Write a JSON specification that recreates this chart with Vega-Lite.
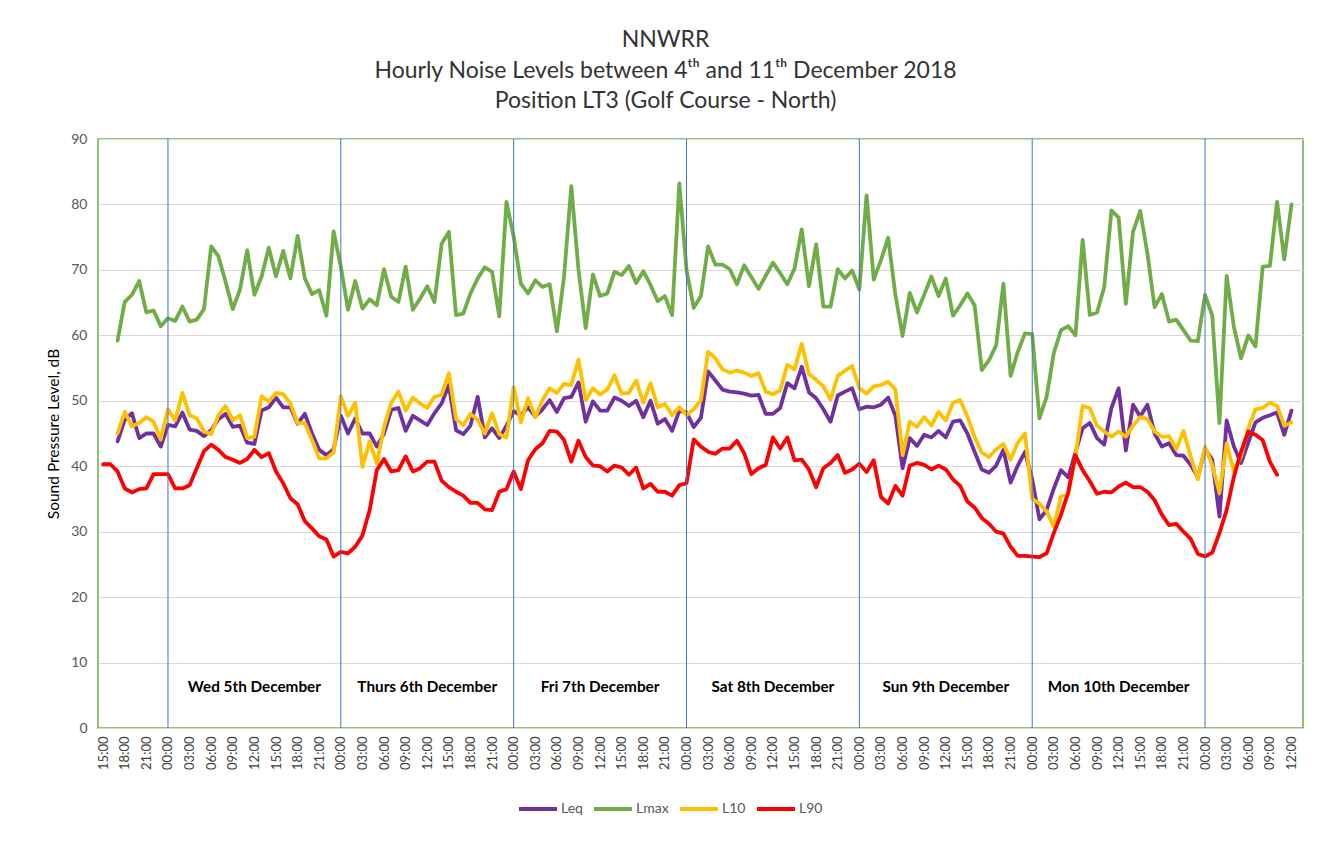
{
  "$schema": "https://vega.github.io/schema/vega-lite/v6.json",
  "width": 1205,
  "height": 589,
  "autosize": {"type": "none"},
  "padding": {"left": 98, "top": 139, "right": 27, "bottom": 134},
  "background": "white",
  "config": {
    "font": "Lato",
    "view": {"stroke": "#70AD47", "strokeWidth": 1.5},
    "axisX": {"labelAngle": 270, "labelFontSize": 13, "labelColor": "#404040", "labelPadding": 8, "ticks": false, "grid": false, "domainColor": "#d9d9d9", "labelOverlap": false, "labelFlush": false, "labelBound": false},
    "axisY": {"labelFontSize": 14, "labelColor": "#595959", "ticks": false, "domain": false, "gridColor": "#d9d9d9", "gridWidth": 1, "labelPadding": 11, "titleFontSize": 15.5, "titleColor": "#000000", "titleFontWeight": "normal", "titlePadding": 9}
  },
  "title": {
    "text": ["NNWRR", "Hourly Noise Levels between 4ᵗʰ and 11ᵗʰ December 2018", "Position LT3 (Golf Course - North)"],
    "fontSize": 23, "fontWeight": "normal", "color": "#333333", "lineHeight": 30.5,
    "anchor": "middle", "frame": "group", "dx": -35, "offset": 19
  },
  "datasets": {
    "midnights": [
      {"t": "2018-12-05T00:00"}, {"t": "2018-12-06T00:00"}, {"t": "2018-12-07T00:00"}, {"t": "2018-12-08T00:00"},
      {"t": "2018-12-09T00:00"}, {"t": "2018-12-10T00:00"}, {"t": "2018-12-11T00:00"}
    ],
    "days": [
      {"t": "2018-12-05T12:00", "label": "Wed 5th December"},
      {"t": "2018-12-06T12:00", "label": "Thurs 6th December"},
      {"t": "2018-12-07T12:00", "label": "Fri 7th December"},
      {"t": "2018-12-08T12:00", "label": "Sat 8th December"},
      {"t": "2018-12-09T12:00", "label": "Sun 9th December"},
      {"t": "2018-12-10T12:00", "label": "Mon 10th December"}
    ],
    "noise": [
      {"t": "2018-12-04T15:00", "Leq": null, "Lmax": null, "L10": null, "L90": 40.3},
      {"t": "2018-12-04T16:00", "Leq": null, "Lmax": null, "L10": null, "L90": 40.3},
      {"t": "2018-12-04T17:00", "Leq": 43.8, "Lmax": 59.2, "L10": 45.0, "L90": 39.2},
      {"t": "2018-12-04T18:00", "Leq": 47.1, "Lmax": 65.1, "L10": 48.3, "L90": 36.6},
      {"t": "2018-12-04T19:00", "Leq": 48.1, "Lmax": 66.2, "L10": 46.1, "L90": 36.0},
      {"t": "2018-12-04T20:00", "Leq": 44.3, "Lmax": 68.3, "L10": 46.6, "L90": 36.5},
      {"t": "2018-12-04T21:00", "Leq": 45.0, "Lmax": 63.5, "L10": 47.5, "L90": 36.6},
      {"t": "2018-12-04T22:00", "Leq": 45.0, "Lmax": 63.8, "L10": 46.8, "L90": 38.8},
      {"t": "2018-12-04T23:00", "Leq": 43.0, "Lmax": 61.4, "L10": 44.1, "L90": 38.8},
      {"t": "2018-12-05T00:00", "Leq": 46.3, "Lmax": 62.6, "L10": 48.7, "L90": 38.8},
      {"t": "2018-12-05T01:00", "Leq": 46.1, "Lmax": 62.2, "L10": 47.0, "L90": 36.6},
      {"t": "2018-12-05T02:00", "Leq": 48.2, "Lmax": 64.4, "L10": 51.2, "L90": 36.6},
      {"t": "2018-12-05T03:00", "Leq": 45.6, "Lmax": 62.1, "L10": 47.8, "L90": 37.1},
      {"t": "2018-12-05T04:00", "Leq": 45.4, "Lmax": 62.4, "L10": 47.3, "L90": 39.7},
      {"t": "2018-12-05T05:00", "Leq": 44.6, "Lmax": 64.0, "L10": 45.3, "L90": 42.3},
      {"t": "2018-12-05T06:00", "Leq": 45.5, "Lmax": 73.6, "L10": 44.9, "L90": 43.3},
      {"t": "2018-12-05T07:00", "Leq": 47.2, "Lmax": 72.1, "L10": 47.8, "L90": 42.5},
      {"t": "2018-12-05T08:00", "Leq": 48.0, "Lmax": 68.2, "L10": 49.2, "L90": 41.4},
      {"t": "2018-12-05T09:00", "Leq": 46.0, "Lmax": 64.0, "L10": 47.0, "L90": 41.0},
      {"t": "2018-12-05T10:00", "Leq": 46.2, "Lmax": 67.0, "L10": 47.8, "L90": 40.5},
      {"t": "2018-12-05T11:00", "Leq": 43.6, "Lmax": 73.0, "L10": 44.3, "L90": 41.1},
      {"t": "2018-12-05T12:00", "Leq": 43.4, "Lmax": 66.2, "L10": 44.5, "L90": 42.5},
      {"t": "2018-12-05T13:00", "Leq": 48.5, "Lmax": 69.0, "L10": 50.7, "L90": 41.4},
      {"t": "2018-12-05T14:00", "Leq": 49.0, "Lmax": 73.4, "L10": 49.9, "L90": 42.0},
      {"t": "2018-12-05T15:00", "Leq": 50.5, "Lmax": 69.0, "L10": 51.2, "L90": 39.2},
      {"t": "2018-12-05T16:00", "Leq": 49.0, "Lmax": 72.9, "L10": 51.0, "L90": 37.4},
      {"t": "2018-12-05T17:00", "Leq": 49.0, "Lmax": 68.7, "L10": 49.6, "L90": 35.1},
      {"t": "2018-12-05T18:00", "Leq": 46.5, "Lmax": 75.2, "L10": 46.6, "L90": 34.2},
      {"t": "2018-12-05T19:00", "Leq": 48.0, "Lmax": 68.7, "L10": 46.6, "L90": 31.6},
      {"t": "2018-12-05T20:00", "Leq": 45.0, "Lmax": 66.3, "L10": 44.0, "L90": 30.5},
      {"t": "2018-12-05T21:00", "Leq": 42.5, "Lmax": 66.9, "L10": 41.2, "L90": 29.3},
      {"t": "2018-12-05T22:00", "Leq": 41.7, "Lmax": 63.0, "L10": 41.2, "L90": 28.8},
      {"t": "2018-12-05T23:00", "Leq": 42.6, "Lmax": 75.9, "L10": 42.1, "L90": 26.2},
      {"t": "2018-12-06T00:00", "Leq": 47.7, "Lmax": 70.5, "L10": 50.7, "L90": 26.9},
      {"t": "2018-12-06T01:00", "Leq": 45.0, "Lmax": 63.9, "L10": 47.7, "L90": 26.7},
      {"t": "2018-12-06T02:00", "Leq": 47.3, "Lmax": 68.3, "L10": 49.7, "L90": 27.7},
      {"t": "2018-12-06T03:00", "Leq": 45.0, "Lmax": 64.1, "L10": 39.9, "L90": 29.4},
      {"t": "2018-12-06T04:00", "Leq": 45.0, "Lmax": 65.5, "L10": 43.8, "L90": 33.3},
      {"t": "2018-12-06T05:00", "Leq": 43.0, "Lmax": 64.6, "L10": 40.4, "L90": 39.4},
      {"t": "2018-12-06T06:00", "Leq": 45.0, "Lmax": 70.1, "L10": 46.0, "L90": 41.1},
      {"t": "2018-12-06T07:00", "Leq": 48.6, "Lmax": 65.9, "L10": 49.7, "L90": 39.2},
      {"t": "2018-12-06T08:00", "Leq": 48.9, "Lmax": 65.1, "L10": 51.4, "L90": 39.4},
      {"t": "2018-12-06T09:00", "Leq": 45.4, "Lmax": 70.5, "L10": 48.5, "L90": 41.5},
      {"t": "2018-12-06T10:00", "Leq": 47.7, "Lmax": 63.9, "L10": 50.5, "L90": 39.2},
      {"t": "2018-12-06T11:00", "Leq": 47.0, "Lmax": 65.6, "L10": 49.6, "L90": 39.7},
      {"t": "2018-12-06T12:00", "Leq": 46.3, "Lmax": 67.5, "L10": 48.9, "L90": 40.7},
      {"t": "2018-12-06T13:00", "Leq": 48.1, "Lmax": 65.1, "L10": 50.6, "L90": 40.7},
      {"t": "2018-12-06T14:00", "Leq": 49.6, "Lmax": 74.0, "L10": 50.9, "L90": 37.8},
      {"t": "2018-12-06T15:00", "Leq": 52.4, "Lmax": 75.8, "L10": 54.2, "L90": 36.8},
      {"t": "2018-12-06T16:00", "Leq": 45.5, "Lmax": 63.1, "L10": 47.2, "L90": 36.1},
      {"t": "2018-12-06T17:00", "Leq": 44.9, "Lmax": 63.3, "L10": 46.3, "L90": 35.5},
      {"t": "2018-12-06T18:00", "Leq": 46.2, "Lmax": 66.4, "L10": 48.0, "L90": 34.4},
      {"t": "2018-12-06T19:00", "Leq": 50.6, "Lmax": 68.7, "L10": 47.1, "L90": 34.4},
      {"t": "2018-12-06T20:00", "Leq": 44.4, "Lmax": 70.4, "L10": 45.0, "L90": 33.4},
      {"t": "2018-12-06T21:00", "Leq": 45.8, "Lmax": 69.7, "L10": 48.1, "L90": 33.3},
      {"t": "2018-12-06T22:00", "Leq": 44.3, "Lmax": 62.9, "L10": 44.9, "L90": 36.1},
      {"t": "2018-12-06T23:00", "Leq": 46.2, "Lmax": 80.4, "L10": 44.4, "L90": 36.5},
      {"t": "2018-12-07T00:00", "Leq": 48.4, "Lmax": 75.1, "L10": 52.1, "L90": 39.2},
      {"t": "2018-12-07T01:00", "Leq": 47.8, "Lmax": 67.9, "L10": 46.7, "L90": 36.5},
      {"t": "2018-12-07T02:00", "Leq": 49.0, "Lmax": 66.4, "L10": 50.4, "L90": 40.9},
      {"t": "2018-12-07T03:00", "Leq": 47.6, "Lmax": 68.4, "L10": 47.5, "L90": 42.6},
      {"t": "2018-12-07T04:00", "Leq": 48.7, "Lmax": 67.4, "L10": 50.1, "L90": 43.5},
      {"t": "2018-12-07T05:00", "Leq": 50.1, "Lmax": 67.8, "L10": 51.9, "L90": 45.4},
      {"t": "2018-12-07T06:00", "Leq": 48.3, "Lmax": 60.6, "L10": 51.2, "L90": 45.3},
      {"t": "2018-12-07T07:00", "Leq": 50.4, "Lmax": 69.0, "L10": 52.6, "L90": 44.0},
      {"t": "2018-12-07T08:00", "Leq": 50.6, "Lmax": 82.8, "L10": 52.4, "L90": 40.7},
      {"t": "2018-12-07T09:00", "Leq": 52.8, "Lmax": 70.0, "L10": 56.3, "L90": 43.9},
      {"t": "2018-12-07T10:00", "Leq": 46.8, "Lmax": 61.1, "L10": 50.1, "L90": 41.4},
      {"t": "2018-12-07T11:00", "Leq": 49.9, "Lmax": 69.3, "L10": 51.9, "L90": 40.1},
      {"t": "2018-12-07T12:00", "Leq": 48.5, "Lmax": 66.0, "L10": 51.0, "L90": 40.0},
      {"t": "2018-12-07T13:00", "Leq": 48.5, "Lmax": 66.4, "L10": 51.7, "L90": 39.2},
      {"t": "2018-12-07T14:00", "Leq": 50.5, "Lmax": 69.7, "L10": 53.9, "L90": 40.1},
      {"t": "2018-12-07T15:00", "Leq": 50.0, "Lmax": 69.2, "L10": 51.1, "L90": 39.8},
      {"t": "2018-12-07T16:00", "Leq": 49.2, "Lmax": 70.6, "L10": 51.2, "L90": 38.7},
      {"t": "2018-12-07T17:00", "Leq": 50.0, "Lmax": 68.0, "L10": 53.1, "L90": 39.8},
      {"t": "2018-12-07T18:00", "Leq": 47.5, "Lmax": 69.8, "L10": 49.7, "L90": 36.6},
      {"t": "2018-12-07T19:00", "Leq": 50.0, "Lmax": 67.7, "L10": 52.7, "L90": 37.3},
      {"t": "2018-12-07T20:00", "Leq": 46.5, "Lmax": 65.2, "L10": 49.0, "L90": 36.1},
      {"t": "2018-12-07T21:00", "Leq": 47.2, "Lmax": 66.0, "L10": 49.5, "L90": 36.1},
      {"t": "2018-12-07T22:00", "Leq": 45.4, "Lmax": 63.1, "L10": 47.8, "L90": 35.5},
      {"t": "2018-12-07T23:00", "Leq": 48.5, "Lmax": 83.2, "L10": 49.0, "L90": 37.1},
      {"t": "2018-12-08T00:00", "Leq": 48.2, "Lmax": 70.0, "L10": 47.8, "L90": 37.4},
      {"t": "2018-12-08T01:00", "Leq": 46.0, "Lmax": 64.2, "L10": 48.7, "L90": 44.1},
      {"t": "2018-12-08T02:00", "Leq": 47.4, "Lmax": 66.0, "L10": 50.1, "L90": 43.0},
      {"t": "2018-12-08T03:00", "Leq": 54.5, "Lmax": 73.6, "L10": 57.5, "L90": 42.2},
      {"t": "2018-12-08T04:00", "Leq": 53.1, "Lmax": 70.8, "L10": 56.5, "L90": 41.9},
      {"t": "2018-12-08T05:00", "Leq": 51.7, "Lmax": 70.8, "L10": 54.8, "L90": 42.7},
      {"t": "2018-12-08T06:00", "Leq": 51.4, "Lmax": 70.1, "L10": 54.3, "L90": 42.7},
      {"t": "2018-12-08T07:00", "Leq": 51.3, "Lmax": 67.8, "L10": 54.6, "L90": 43.9},
      {"t": "2018-12-08T08:00", "Leq": 51.1, "Lmax": 70.7, "L10": 54.3, "L90": 42.0},
      {"t": "2018-12-08T09:00", "Leq": 50.8, "Lmax": 68.9, "L10": 53.8, "L90": 38.8},
      {"t": "2018-12-08T10:00", "Leq": 50.9, "Lmax": 67.1, "L10": 54.2, "L90": 39.7},
      {"t": "2018-12-08T11:00", "Leq": 48.0, "Lmax": 69.1, "L10": 51.4, "L90": 40.2},
      {"t": "2018-12-08T12:00", "Leq": 48.0, "Lmax": 71.1, "L10": 51.0, "L90": 44.4},
      {"t": "2018-12-08T13:00", "Leq": 48.9, "Lmax": 69.5, "L10": 51.6, "L90": 42.7},
      {"t": "2018-12-08T14:00", "Leq": 52.7, "Lmax": 67.8, "L10": 55.5, "L90": 44.4},
      {"t": "2018-12-08T15:00", "Leq": 51.9, "Lmax": 70.2, "L10": 54.8, "L90": 40.9},
      {"t": "2018-12-08T16:00", "Leq": 55.2, "Lmax": 76.2, "L10": 58.7, "L90": 41.0},
      {"t": "2018-12-08T17:00", "Leq": 51.3, "Lmax": 67.5, "L10": 54.1, "L90": 39.5},
      {"t": "2018-12-08T18:00", "Leq": 50.4, "Lmax": 73.9, "L10": 53.2, "L90": 36.8},
      {"t": "2018-12-08T19:00", "Leq": 48.7, "Lmax": 64.4, "L10": 52.2, "L90": 39.7},
      {"t": "2018-12-08T20:00", "Leq": 46.8, "Lmax": 64.4, "L10": 50.2, "L90": 40.5},
      {"t": "2018-12-08T21:00", "Leq": 50.8, "Lmax": 70.1, "L10": 53.8, "L90": 41.7},
      {"t": "2018-12-08T22:00", "Leq": 51.4, "Lmax": 68.7, "L10": 54.6, "L90": 39.0},
      {"t": "2018-12-08T23:00", "Leq": 51.9, "Lmax": 69.9, "L10": 55.3, "L90": 39.5},
      {"t": "2018-12-09T00:00", "Leq": 48.7, "Lmax": 67.0, "L10": 51.9, "L90": 40.4},
      {"t": "2018-12-09T01:00", "Leq": 49.1, "Lmax": 81.4, "L10": 51.1, "L90": 39.1},
      {"t": "2018-12-09T02:00", "Leq": 49.0, "Lmax": 68.5, "L10": 52.2, "L90": 40.9},
      {"t": "2018-12-09T03:00", "Leq": 49.4, "Lmax": 71.5, "L10": 52.4, "L90": 35.3},
      {"t": "2018-12-09T04:00", "Leq": 50.5, "Lmax": 74.9, "L10": 52.9, "L90": 34.3},
      {"t": "2018-12-09T05:00", "Leq": 47.7, "Lmax": 66.2, "L10": 51.7, "L90": 37.0},
      {"t": "2018-12-09T06:00", "Leq": 39.7, "Lmax": 59.9, "L10": 41.7, "L90": 35.5},
      {"t": "2018-12-09T07:00", "Leq": 44.3, "Lmax": 66.5, "L10": 46.8, "L90": 40.1},
      {"t": "2018-12-09T08:00", "Leq": 43.1, "Lmax": 63.5, "L10": 46.0, "L90": 40.5},
      {"t": "2018-12-09T09:00", "Leq": 44.8, "Lmax": 66.2, "L10": 47.5, "L90": 40.2},
      {"t": "2018-12-09T10:00", "Leq": 44.4, "Lmax": 69.0, "L10": 46.2, "L90": 39.5},
      {"t": "2018-12-09T11:00", "Leq": 45.4, "Lmax": 66.0, "L10": 48.3, "L90": 40.1},
      {"t": "2018-12-09T12:00", "Leq": 44.4, "Lmax": 68.7, "L10": 47.0, "L90": 39.5},
      {"t": "2018-12-09T13:00", "Leq": 46.8, "Lmax": 63.0, "L10": 49.7, "L90": 38.0},
      {"t": "2018-12-09T14:00", "Leq": 47.0, "Lmax": 64.6, "L10": 50.1, "L90": 37.0},
      {"t": "2018-12-09T15:00", "Leq": 45.0, "Lmax": 66.4, "L10": 47.6, "L90": 34.6},
      {"t": "2018-12-09T16:00", "Leq": 42.2, "Lmax": 64.6, "L10": 44.5, "L90": 33.7},
      {"t": "2018-12-09T17:00", "Leq": 39.5, "Lmax": 54.7, "L10": 42.1, "L90": 32.1},
      {"t": "2018-12-09T18:00", "Leq": 39.0, "Lmax": 56.2, "L10": 41.4, "L90": 31.2},
      {"t": "2018-12-09T19:00", "Leq": 40.1, "Lmax": 58.5, "L10": 42.6, "L90": 30.0},
      {"t": "2018-12-09T20:00", "Leq": 42.5, "Lmax": 67.9, "L10": 43.4, "L90": 29.7},
      {"t": "2018-12-09T21:00", "Leq": 37.5, "Lmax": 53.8, "L10": 41.0, "L90": 27.7},
      {"t": "2018-12-09T22:00", "Leq": 40.1, "Lmax": 57.5, "L10": 43.6, "L90": 26.3},
      {"t": "2018-12-09T23:00", "Leq": 42.2, "Lmax": 60.3, "L10": 45.0, "L90": 26.3},
      {"t": "2018-12-10T00:00", "Leq": 38.0, "Lmax": 60.2, "L10": 35.0, "L90": 26.2},
      {"t": "2018-12-10T01:00", "Leq": 31.9, "Lmax": 47.3, "L10": 34.3, "L90": 26.1},
      {"t": "2018-12-10T02:00", "Leq": 33.3, "Lmax": 50.6, "L10": 33.1, "L90": 26.7},
      {"t": "2018-12-10T03:00", "Leq": 36.6, "Lmax": 57.3, "L10": 30.8, "L90": 29.8},
      {"t": "2018-12-10T04:00", "Leq": 39.4, "Lmax": 60.8, "L10": 35.4, "L90": 32.6},
      {"t": "2018-12-10T05:00", "Leq": 38.3, "Lmax": 61.4, "L10": 35.6, "L90": 36.0},
      {"t": "2018-12-10T06:00", "Leq": 42.1, "Lmax": 60.0, "L10": 41.6, "L90": 41.7},
      {"t": "2018-12-10T07:00", "Leq": 45.8, "Lmax": 74.6, "L10": 49.2, "L90": 39.4},
      {"t": "2018-12-10T08:00", "Leq": 46.6, "Lmax": 63.1, "L10": 48.9, "L90": 37.7},
      {"t": "2018-12-10T09:00", "Leq": 44.3, "Lmax": 63.5, "L10": 46.2, "L90": 35.8},
      {"t": "2018-12-10T10:00", "Leq": 43.3, "Lmax": 67.4, "L10": 45.3, "L90": 36.1},
      {"t": "2018-12-10T11:00", "Leq": 48.9, "Lmax": 79.1, "L10": 44.5, "L90": 36.0},
      {"t": "2018-12-10T12:00", "Leq": 51.9, "Lmax": 78.0, "L10": 45.3, "L90": 36.9},
      {"t": "2018-12-10T13:00", "Leq": 42.4, "Lmax": 64.8, "L10": 44.5, "L90": 37.5},
      {"t": "2018-12-10T14:00", "Leq": 49.4, "Lmax": 75.8, "L10": 46.2, "L90": 36.8},
      {"t": "2018-12-10T15:00", "Leq": 47.6, "Lmax": 79.0, "L10": 47.5, "L90": 36.8},
      {"t": "2018-12-10T16:00", "Leq": 49.4, "Lmax": 72.5, "L10": 47.2, "L90": 36.1},
      {"t": "2018-12-10T17:00", "Leq": 45.0, "Lmax": 64.3, "L10": 45.3, "L90": 34.8},
      {"t": "2018-12-10T18:00", "Leq": 43.0, "Lmax": 66.3, "L10": 44.5, "L90": 32.6},
      {"t": "2018-12-10T19:00", "Leq": 43.5, "Lmax": 62.1, "L10": 44.6, "L90": 31.0},
      {"t": "2018-12-10T20:00", "Leq": 41.7, "Lmax": 62.4, "L10": 42.6, "L90": 31.2},
      {"t": "2018-12-10T21:00", "Leq": 41.6, "Lmax": 60.8, "L10": 45.4, "L90": 30.0},
      {"t": "2018-12-10T22:00", "Leq": 40.2, "Lmax": 59.2, "L10": 41.5, "L90": 28.9},
      {"t": "2018-12-10T23:00", "Leq": 38.3, "Lmax": 59.1, "L10": 38.0, "L90": 26.6},
      {"t": "2018-12-11T00:00", "Leq": 42.6, "Lmax": 66.2, "L10": 43.0, "L90": 26.2},
      {"t": "2018-12-11T01:00", "Leq": 41.0, "Lmax": 63.0, "L10": 40.2, "L90": 26.8},
      {"t": "2018-12-11T02:00", "Leq": 32.3, "Lmax": 46.6, "L10": 35.9, "L90": 29.8},
      {"t": "2018-12-11T03:00", "Leq": 47.0, "Lmax": 69.1, "L10": 43.5, "L90": 33.3},
      {"t": "2018-12-11T04:00", "Leq": 43.0, "Lmax": 61.3, "L10": 39.2, "L90": 38.4},
      {"t": "2018-12-11T05:00", "Leq": 40.5, "Lmax": 56.5, "L10": 41.5, "L90": 42.2},
      {"t": "2018-12-11T06:00", "Leq": 43.6, "Lmax": 60.0, "L10": 45.8, "L90": 45.3},
      {"t": "2018-12-11T07:00", "Leq": 46.7, "Lmax": 58.3, "L10": 48.7, "L90": 44.8},
      {"t": "2018-12-11T08:00", "Leq": 47.4, "Lmax": 70.5, "L10": 48.9, "L90": 44.0},
      {"t": "2018-12-11T09:00", "Leq": 47.8, "Lmax": 70.6, "L10": 49.7, "L90": 40.7},
      {"t": "2018-12-11T10:00", "Leq": 48.2, "Lmax": 80.4, "L10": 49.2, "L90": 38.7},
      {"t": "2018-12-11T11:00", "Leq": 44.8, "Lmax": 71.6, "L10": 46.2, "L90": null},
      {"t": "2018-12-11T12:00", "Leq": 48.5, "Lmax": 80.0, "L10": 46.7, "L90": null}
    ]
  },
  "layer": [
    {
      "data": {"name": "noise"},
      "transform": [{"fold": ["Leq", "Lmax", "L10", "L90"], "as": ["series", "level"]}],
      "mark": {"type": "line", "strokeWidth": 3.8, "strokeJoin": "round", "strokeCap": "round"},
      "encoding": {
        "x": {
          "field": "t", "type": "temporal", "title": null,
          "scale": {"domain": [{"year": 2018, "month": 12, "date": 4, "hours": 14, "minutes": 17}, {"year": 2018, "month": 12, "date": 11, "hours": 13, "minutes": 36}], "nice": false},
          "axis": {"format": "%H:%M", "tickCount": 56}
        },
        "y": {"field": "level", "type": "quantitative", "title": "Sound Pressure Level, dB", "scale": {"domain": [0, 90], "nice": false}, "axis": {"values": [0, 10, 20, 30, 40, 50, 60, 70, 80, 90]}},
        "color": {
          "field": "series", "type": "nominal",
          "scale": {"domain": ["Leq", "Lmax", "L10", "L90"], "range": ["#7030A0", "#70AD47", "#FFC000", "#FF0000"]},
          "legend": {"title": null, "orient": "none", "legendX": 419, "legendY": 649, "direction": "horizontal", "symbolType": "stroke", "symbolSize": 1444, "symbolStrokeWidth": 4, "labelFontSize": 14, "labelColor": "#595959", "labelOffset": 2, "columnPadding": 3}
        }
      }
    },
    {
      "data": {"name": "midnights"},
      "mark": {"type": "rule", "color": "#4472C4", "strokeWidth": 1},
      "encoding": {
        "x": {"field": "t", "type": "temporal"}
      }
    },
    {
      "data": {"name": "days"},
      "mark": {"type": "text", "fontWeight": "bold", "fontSize": 15.3, "color": "#000000", "align": "center", "baseline": "middle"},
      "encoding": {
        "x": {"field": "t", "type": "temporal"},
        "y": {"datum": 6.3},
        "text": {"field": "label"}
      }
    }
  ]
}
